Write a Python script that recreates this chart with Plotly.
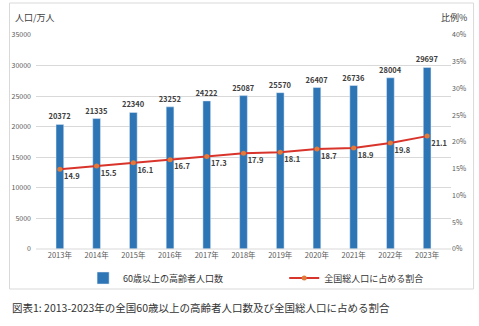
import plotly.graph_objects as go

years = ["2013年", "2014年", "2015年", "2016年", "2017年", "2018年",
         "2019年", "2020年", "2021年", "2022年", "2023年"]
population = [20372, 21335, 22340, 23252, 24222, 25087, 25570, 26407, 26736, 28004, 29697]
ratio = [14.9, 15.5, 16.1, 16.7, 17.3, 17.9, 18.1, 18.7, 18.9, 19.8, 21.1]

FONT = "Noto Sans CJK JP"
W, H = 479, 326
L, R, T, B = 30, 26, 35, 77
PW, PH = W - L - R, H - T - B

def px(x):
    return (x - L) / PW

def py(y):
    return (H - B - y) / PH

fig = go.Figure()
fig.add_trace(go.Bar(
    x=years, y=population, name="60歳以上の高齢者人口数",
    marker_color="#2E75B6", width=0.21,
    text=[str(v) for v in population], textposition="outside",
    constraintext="none",
    textfont=dict(size=7.5, color="#404040", family=FONT, weight="bold"),
    cliponaxis=False, legend="legend",
))
fig.add_trace(go.Scatter(
    x=years, y=ratio, name="全国総人口に占める割合", yaxis="y2",
    mode="lines+markers+text",
    line=dict(color="#D9342B", width=2),
    marker=dict(color="#E07B39", size=5),
    text=[f"{v:.1f}" for v in ratio], textposition="bottom right",
    textfont=dict(size=7.5, color="#404040", family=FONT, weight="bold"),
    cliponaxis=False, legend="legend2",
))

legend_common = dict(orientation="h", yanchor="middle", y=py(278), xanchor="left",
                     font=dict(size=9, color="#333333", family=FONT),
                     itemwidth=30, bgcolor="rgba(0,0,0,0)")

fig.update_layout(
    width=W, height=H,
    margin=dict(l=L, r=R, t=T, b=B),
    paper_bgcolor="white", plot_bgcolor="white",
    font=dict(family=FONT, color="#595959", size=8),
    showlegend=True,
    legend=dict(x=px(78), **legend_common),
    legend2=dict(x=px(283), **legend_common),
    xaxis=dict(showgrid=False, showline=False, ticks="",
               tickfont=dict(size=7.5, color="#595959")),
    yaxis=dict(range=[0, 35000], dtick=5000, tickformat="d", showgrid=True,
               gridcolor="#D9D9D9", gridwidth=1, zeroline=False, showline=False,
               ticks="", tickfont=dict(size=7, color="#595959"), ticklabelstandoff=4),
    yaxis2=dict(range=[0, 40], dtick=5, overlaying="y", side="right", showgrid=False,
                zeroline=False, showline=False, ticksuffix="%",
                tickfont=dict(size=7, color="#595959")),
    bargap=0.5,
    shapes=[
        dict(type="rect", xref="paper", yref="paper",
             x0=px(3), x1=px(476), y0=py(289), y1=py(3),
             line=dict(color="#D9D9D9", width=1), fillcolor="rgba(0,0,0,0)", layer="below"),
        dict(type="line", xref="paper", yref="paper",
             x0=0, x1=1, y0=0, y1=0, line=dict(color="#D9D9D9", width=1)),
    ],
    annotations=[
        dict(text="人口/万人", xref="paper", yref="paper", x=px(7), y=py(18),
             xanchor="left", yanchor="middle", showarrow=False,
             font=dict(size=9, color="#404040", family=FONT)),
        dict(text="比例%", xref="paper", yref="paper", x=px(471), y=py(17),
             xanchor="right", yanchor="middle", showarrow=False,
             font=dict(size=9, color="#404040", family=FONT)),
        dict(text="図表1: 2013-2023年の全国60歳以上の高齢者人口数及び全国総人口に占める割合",
             xref="paper", yref="paper", x=px(3), y=py(307),
             xanchor="left", yanchor="middle", showarrow=False,
             font=dict(size=10.5, color="#333333", family=FONT)),
    ],
)

fig.write_html("out.html")
